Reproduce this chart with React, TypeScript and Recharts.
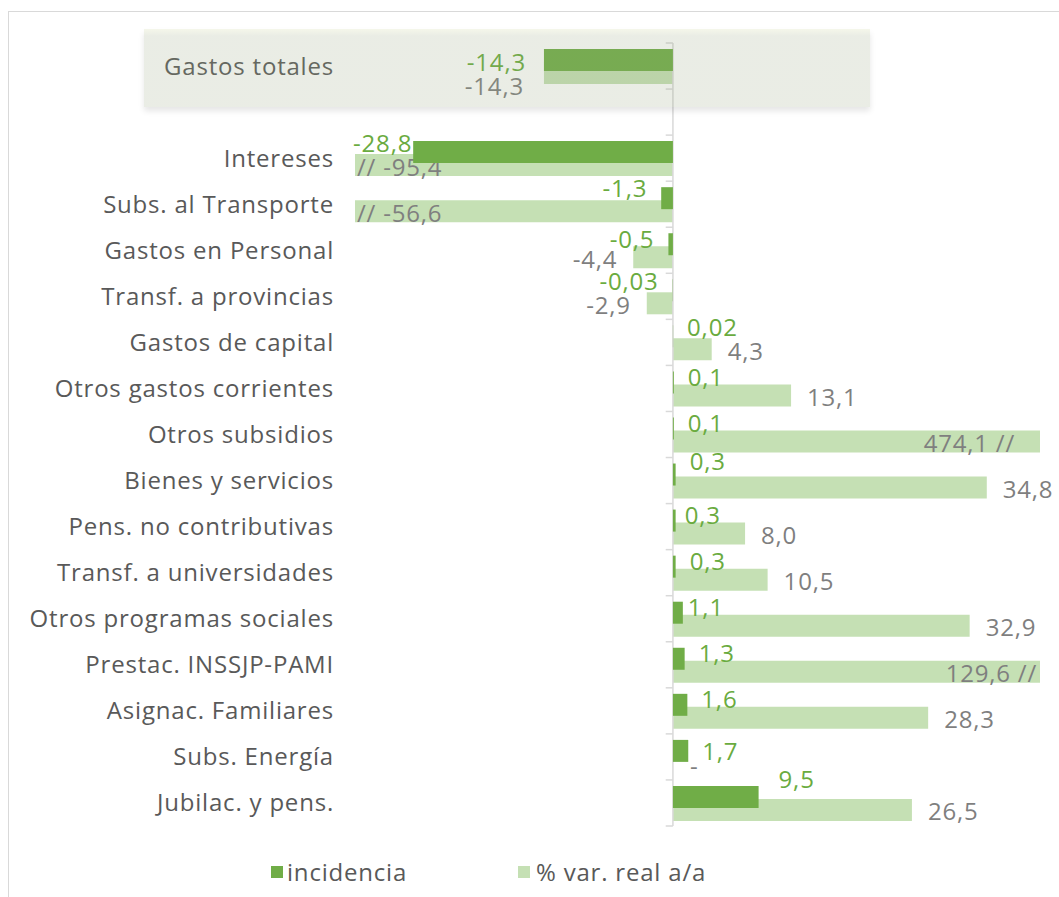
import React from "react";
import { BarChart, Bar, XAxis, YAxis, LabelList, ReferenceLine } from "recharts";

const CATEGORIES = [
  "Gastos totales",
  "",
  "Intereses",
  "Subs. al Transporte",
  "Gastos en Personal",
  "Transf. a provincias",
  "Gastos de capital",
  "Otros gastos corrientes",
  "Otros subsidios",
  "Bienes y servicios",
  "Pens. no contributivas",
  "Transf. a universidades",
  "Otros programas sociales",
  "Prestac. INSSJP-PAMI",
  "Asignac. Familiares",
  "Subs. Energía",
  "Jubilac. y pens.",
];
const INCIDENCIA = [-14.3, null, -28.8, -1.3, -0.5, -0.03, 0.02, 0.1, 0.1, 0.3, 0.3, 0.3, 1.1, 1.3, 1.6, 1.7, 9.5];
const VAR_REAL = [-14.3, null, -95.4, -56.6, -4.4, -2.9, 4.3, 13.1, 474.1, 34.8, 8.0, 10.5, 32.9, 129.6, 28.3, null, 26.5];
const X_DOMAIN: [number, number] = [-35.25, 40.7];

const data = CATEGORIES.map((name, i) => ({ name, inc: INCIDENCIA[i], varr: VAR_REAL[i] }));

const W = 1059;
const H = 897;
const MARGIN = { top: 43, right: 19, bottom: 71, left: 20 };
const Y_WIDTH = 335;
const PLOT_LEFT = MARGIN.left + Y_WIDTH;
const PLOT_RIGHT = W - MARGIN.right;
const BAND = (H - MARGIN.top - MARGIN.bottom) / CATEGORIES.length;

const DARK = "#70AD47";
const LIGHT = "#C5E0B4";
const GREEN_TXT = "#6AAB3F";
const GRAY_TXT = "#7F7F7F";
const CAT_TXT = "#595959";
const FONT = "'Open Sans', sans-serif";
const FS = 24;
const LS = 0.8;

// hand nudges for labels that Excel moved around
const INC_NUDGE: Record<string, { dx?: number; dy?: number }> = {
  "Gastos totales": { dx: -4, dy: 7 },
  Intereses: { dx: 13, dy: -4 },
  "Subs. al Transporte": { dy: -5 },
  "Transf. a provincias": { dy: -4 },
  "Gastos de capital": { dy: -4 },
  "Bienes y servicios": { dy: -8 },
  "Pens. no contributivas": { dx: -5 },
  "Otros programas sociales": { dx: -9 },
  "Subs. Energía": { dy: 6 },
  "Jubilac. y pens.": { dx: 6, dy: -12 },
};
const VAR_NUDGE: Record<string, { dx?: number; dy?: number }> = {
  "Gastos totales": { dx: -4, dy: 11 },
  "Otros subsidios": { dx: -22 },
};

const fmt = (v: number) => {
  const d = Math.abs(v) < 0.1 && v !== 0 ? 2 : 1;
  return v.toFixed(d).replace(".", ",");
};

function makeLabel(kind: "inc" | "var") {
  return (props: any) => {
    const vb = props.viewBox || props;
    const value = Number(props.value);
    if (props.value == null || isNaN(value)) return null;
    const cy = vb.y + vb.height / 2;
    const row = data[Math.floor((cy - MARGIN.top) / BAND)];
    if (!row) return null;
    const left = Math.min(vb.x, vb.x + vb.width);
    const right = Math.max(vb.x, vb.x + vb.width);
    const nudge = (kind === "inc" ? INC_NUDGE : VAR_NUDGE)[row.name] || {};
    const dx = nudge.dx || 0;
    const dy = nudge.dy || 0;
    const color = kind === "inc" ? GREEN_TXT : GRAY_TXT;
    const common = {
      fontFamily: FONT,
      fontSize: FS,
      letterSpacing: LS,
      dominantBaseline: "central" as const,
    };
    const gap = kind === "inc" ? 14 : 16;
    const baseDy = kind === "inc" ? -6 : 1;
    let node;
    if (value < X_DOMAIN[0]) {
      node = (
        <text x={PLOT_LEFT + 2 + dx} y={cy + baseDy + dy} textAnchor="start" fill={color} {...common}>
          {"// " + fmt(value)}
        </text>
      );
    } else if (value > X_DOMAIN[1]) {
      node = (
        <text x={PLOT_RIGHT - 3 + dx} y={cy + baseDy + dy} textAnchor="end" fill={color} {...common}>
          {fmt(value) + " //"}
        </text>
      );
    } else if (value < 0) {
      node = (
        <text x={left - gap + dx} y={cy + baseDy + dy} textAnchor="end" fill={color} {...common}>
          {fmt(value)}
        </text>
      );
    } else {
      node = (
        <text x={right + gap + dx} y={cy + baseDy + dy} textAnchor="start" fill={color} {...common}>
          {fmt(value)}
        </text>
      );
    }
    // missing % var. value: Excel leaves a gray dash next to the axis
    if (kind === "inc" && row.varr == null) {
      return (
        <g>
          {node}
          <text x={left + 17} y={cy + 15} textAnchor="start" fill={GRAY_TXT} {...common}>
            -
          </text>
        </g>
      );
    }
    return node;
  };
}

function Chart({ front }: { front: boolean }) {
  const last = CATEGORIES[CATEGORIES.length - 1];
  return (
    <BarChart
      width={W}
      height={H}
      data={data}
      layout="vertical"
      margin={MARGIN}
      barSize={22}
      barGap={-9}
    >
      <XAxis type="number" domain={X_DOMAIN} allowDataOverflow hide />
      <YAxis
        type="category"
        dataKey="name"
        width={Y_WIDTH}
        interval={0}
        axisLine={false}
        tickLine={false}
        tickMargin={15}
        tick={front ? false : { fontSize: FS, fill: CAT_TXT, fontFamily: FONT, letterSpacing: LS }}
      />
      {!front && <ReferenceLine x={0} stroke="#D9D9D9" strokeWidth={1.5} />}
      {!front &&
        CATEGORIES.map((c, i) => (
          <ReferenceLine
            key={"t" + i}
            segment={[{ x: -0.8, y: c }, { x: 0, y: c }]}
            position="start"
            stroke="#D9D9D9"
            strokeWidth={1.5}
          />
        ))}
      {!front && (
        <ReferenceLine
          segment={[{ x: -0.8, y: last }, { x: 0, y: last }]}
          position="end"
          stroke="#D9D9D9"
          strokeWidth={1.5}
        />
      )}
      <Bar dataKey="inc" fill={front ? DARK : "transparent"} isAnimationActive={false}>
        {front && <LabelList dataKey="inc" content={makeLabel("inc")} />}
      </Bar>
      <Bar dataKey="varr" fill={front ? "transparent" : LIGHT} isAnimationActive={false}>
        {!front && <LabelList dataKey="varr" content={makeLabel("var")} />}
      </Bar>
    </BarChart>
  );
}

const legendText = { position: "absolute" as const, top: 857, fontFamily: FONT, fontSize: FS, letterSpacing: LS, color: CAT_TXT, lineHeight: "30px" };

export default function App() {
  return (
    <div style={{ position: "absolute", left: 0, top: 0, width: W, height: H, overflow: "hidden", background: "#fff" }}>
      <div
        style={{
          position: "absolute",
          left: 8,
          top: 11,
          width: 1200,
          height: 1000,
          borderLeft: "1px solid #D9D9D9",
          borderTop: "1px solid #D9D9D9",
        }}
      />
      <div style={{ position: "absolute", left: 0, top: 0 }}>
        <Chart front={false} />
      </div>
      <div style={{ position: "absolute", left: 0, top: 0 }}>
        <Chart front={true} />
      </div>
      <div
        style={{
          position: "absolute",
          left: 144,
          top: 29,
          width: 726,
          height: 78,
          background: "linear-gradient(rgba(225,232,195,0.35), rgba(149,163,125,0.2) 7px)",
          boxShadow: "0 4px 6px rgba(0,0,0,0.10)",
        }}
      />
      <span style={{ position: "absolute", left: 271, top: 866, width: 12, height: 12, background: DARK }} />
      <span style={{ ...legendText, left: 287 }}>incidencia</span>
      <span style={{ position: "absolute", left: 518, top: 866, width: 12, height: 12, background: LIGHT }} />
      <span style={{ ...legendText, left: 536 }}>% var. real a/a</span>
    </div>
  );
}
